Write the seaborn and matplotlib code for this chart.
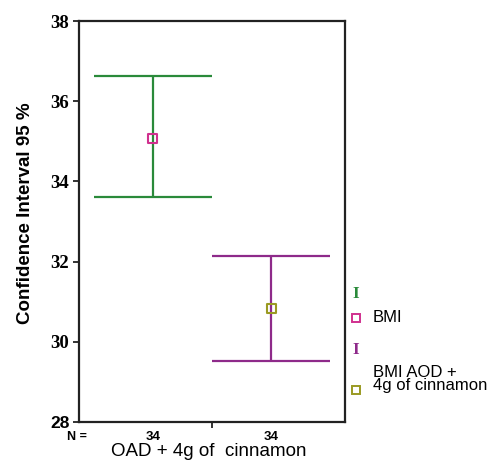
import numpy as np
import pandas as pd
import matplotlib
matplotlib.use("Agg")
import matplotlib.pyplot as plt
import seaborn as sns
from matplotlib.lines import Line2D

# data
groups = ["BMI", "BMI AOD +\n4g of cinnamon"]
means = [35.08, 30.84]
ci_low = [33.60, 29.52]
ci_high = [36.63, 32.14]
n_values = ["34", "34"]
yticks = [28, 30, 32, 34, 36, 38]

line_colors = ["#2a8a3a", "#8e2a8a"]
marker_colors = ["#d0308e", "#9a9a22"]

sns.set_theme(style="white")
plt.rcParams["font.family"] = ["Liberation Sans", "DejaVu Sans"]
plt.rcParams["text.color"] = "black"
plt.rcParams["axes.labelcolor"] = "black"
plt.rcParams["xtick.color"] = "black"
plt.rcParams["ytick.color"] = "black"

fig = plt.figure(figsize=(4.94, 4.61), dpi=100)
ax = fig.add_axes([0.160, 0.085, 0.538, 0.869])

df = pd.DataFrame({"pos": np.arange(len(groups)), "mean": means, "group": groups})

# CI bars
for i in range(len(groups)):
    ax.vlines(i, ci_low[i], ci_high[i], color=line_colors[i], lw=1.6, zorder=2)
    ax.hlines([ci_low[i], ci_high[i]], i - 0.5, i + 0.5, color=line_colors[i], lw=1.6, zorder=2)

sns.scatterplot(data=df, x="pos", y="mean", hue="group", palette=marker_colors,
                marker="s", s=42, linewidth=1.5, legend=False, ax=ax, zorder=3)
coll = ax.collections[-1]
coll.set_facecolor("none")
coll.set_edgecolors(marker_colors)

ax.set_xlim(-0.624, 1.624)
ax.set_ylim(28, 38)
ax.set_yticks(yticks)
labels = ax.set_yticklabels([str(t) for t in yticks], family="Liberation Serif",
                            fontsize=13.5, fontweight="bold")
labels[0].set_family("Liberation Sans")
labels[0].set_fontsize(12.5)
ax.set_xticks([0.5])
ax.set_xticklabels([""])
ax.tick_params(axis="both", direction="out", length=4, width=1.3, color="#222222",
               bottom=True, left=True, pad=3)
for sp in ax.spines.values():
    sp.set_color("#222222")
    sp.set_linewidth(1.6)
ax.set_xlabel("")
ax.set_ylabel("Confidence Interval 95 %", fontsize=13.5, fontweight="bold")
ax.yaxis.set_label_coords(-0.17, 0.52)

# N row
trans = ax.get_xaxis_transform()
for i, n in enumerate(n_values):
    ax.text(i, -0.037, n, transform=trans, ha="center", va="center",
            fontsize=9.5, fontweight="bold")
fig.text(77 / 494, 1 - 437 / 461, "N =", ha="center", va="center", fontsize=9, fontweight="bold")
fig.text(209 / 494, 1 - 460 / 461, "OAD + 4g of  cinnamon", ha="center", va="bottom", fontsize=13.5)

# legend (manual)
def fx(px):
    return px / 494
def fy(py):
    return 1 - py / 461

fig.text(fx(356), fy(294), "I", color=line_colors[0], family="Liberation Serif",
         fontsize=12.5, fontweight="bold", ha="center", va="center")
fig.add_artist(Line2D([fx(356)], [fy(318)], marker="s", ms=5.5, mfc="none",
                      mec=marker_colors[0], mew=1.4, transform=fig.transFigure))
fig.text(fx(373), fy(318), groups[0], fontsize=12, ha="left", va="center")
fig.text(fx(356), fy(350), "I", color=line_colors[1], family="Liberation Serif",
         fontsize=12.5, fontweight="bold", ha="center", va="center")
fig.add_artist(Line2D([fx(356)], [fy(390)], marker="s", ms=5.5, mfc="none",
                      mec=marker_colors[1], mew=1.4, transform=fig.transFigure))
fig.text(fx(373), fy(379), groups[1], fontsize=12, ha="left", va="center",
         linespacing=0.9)

fig.savefig("out.png", dpi=100)
